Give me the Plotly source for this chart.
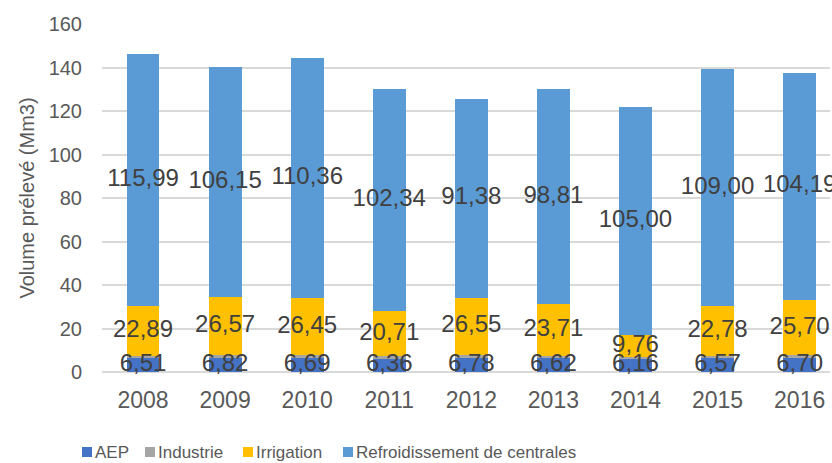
import plotly.graph_objects as go
import numpy as np

years = ["2008", "2009", "2010", "2011", "2012", "2013", "2014", "2015", "2016"]
aep = [6.51, 6.82, 6.69, 6.36, 6.78, 6.62, 6.16, 6.57, 6.70]
industrie = [1.0, 0.9, 0.9, 0.9, 0.9, 0.9, 0.9, 0.9, 0.9]
irrigation = [22.89, 26.57, 26.45, 20.71, 26.55, 23.71, 9.76, 22.78, 25.70]
refroid = [115.99, 106.15, 110.36, 102.34, 91.38, 98.81, 105.00, 109.00, 104.19]

colors = {"AEP": "#4472C4", "Industrie": "#A5A5A5", "Irrigation": "#FFC000",
          "Refroidissement de centrales": "#5B9BD5"}

def fmt(v):
    return f"{v:.2f}".replace(".", ",")

FONT = "Liberation Sans, Arial, sans-serif"

fig = go.Figure()
series = [("AEP", aep, True), ("Industrie", industrie, False),
          ("Irrigation", irrigation, True), ("Refroidissement de centrales", refroid, True)]
base = np.zeros(len(years))
lab_x, lab_y, lab_t = [], [], []
for name, vals, labelled in series:
    v = np.array(vals)
    fig.add_trace(go.Bar(x=years, y=vals, name=name, marker_color=colors[name],
                         marker_line_width=0, hoverinfo="skip", showlegend=False))
    if labelled:
        lab_x += years
        lab_y += list(base + v / 2)
        lab_t += [fmt(x) for x in vals]
    base = base + v

fig.add_trace(go.Scatter(x=lab_x, y=lab_y, text=lab_t, mode="text", showlegend=False,
                         textfont=dict(family=FONT, size=24, color="#404040"),
                         hoverinfo="skip", cliponaxis=False))

# manual legend (paper coords relative to plot area: x 102..830, y 372..24)
W, H, L, B = 728.0, 348.0, 102.0, 372.0
def px(x):
    return (x - L) / W
def py(y):
    return (B - y) / H

leg_items = [("AEP", 82), ("Industrie", 145), ("Irrigation", 243), ("Refroidissement de centrales", 343)]
for name, x0 in leg_items:
    fig.add_shape(type="rect", xref="paper", yref="paper",
                  x0=px(x0), x1=px(x0 + 10), y0=py(457), y1=py(447),
                  fillcolor=colors[name], line_width=0)
    fig.add_annotation(xref="paper", yref="paper", x=px(x0 + 11), y=py(452),
                       xanchor="left", yanchor="middle", showarrow=False, text=name,
                       font=dict(family=FONT, size=17, color="#595959"))

fig.update_layout(
    barmode="stack", bargap=0.6,
    width=832, height=463,
    margin=dict(l=102, r=2, t=24, b=91),
    paper_bgcolor="white", plot_bgcolor="white",
    font=dict(family=FONT, color="#595959"),
    showlegend=False,
    xaxis=dict(range=[-0.5, 8.37], tickfont=dict(size=23, color="#595959"), automargin=False,
               showgrid=False, showline=False, ticks="", ticklabelstandoff=12),
    yaxis=dict(range=[0, 160], dtick=20, tickfont=dict(size=20, color="#595959"), automargin=False,
               gridcolor="#D9D9D9", gridwidth=1.5, zeroline=True, zerolinecolor="#D9D9D9",
               zerolinewidth=1.5, ticks="", ticklabelstandoff=19,
               title=dict(text="Volume prélevé (Mm3)", font=dict(size=20, color="#595959"), standoff=8)),
)
fig.write_html("out.html", config={"displayModeBar": False},
               post_script="document.body.style.margin='0';document.body.style.overflow='hidden';")
